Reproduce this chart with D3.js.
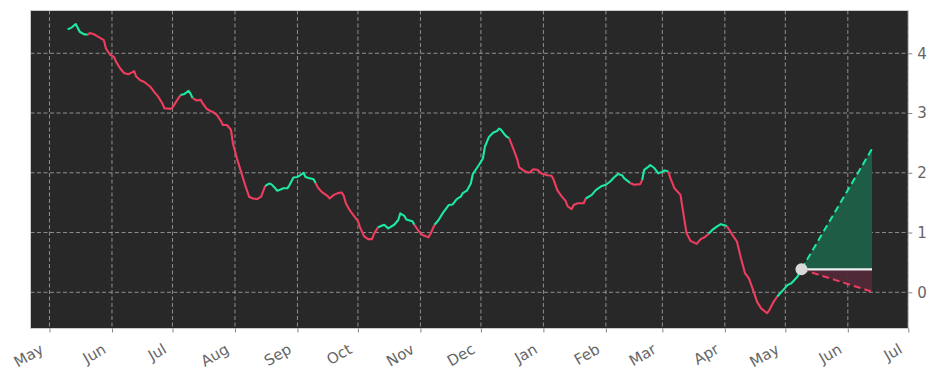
<!DOCTYPE html>
<html>
<head>
<meta charset="utf-8">
<script src="https://cdn.jsdelivr.net/npm/d3@7"></script>
<style>
  html, body { margin: 0; padding: 0; background: #ffffff; }
  svg { display: block; font-family: "DejaVu Sans", sans-serif; }
</style>
</head>
<body>
<svg id="chart" width="938" height="381"></svg>
<script>
// ---------- DATA ----------
const dates = [
  "2022-05-10","2022-05-12","2022-05-14","2022-05-16","2022-05-18","2022-05-20","2022-05-21","2022-05-23","2022-05-25","2022-05-28",
  "2022-05-29","2022-05-31","2022-06-02","2022-06-03","2022-06-05","2022-06-07","2022-06-09","2022-06-11","2022-06-12","2022-06-13",
  "2022-06-15","2022-06-17","2022-06-20","2022-06-22","2022-06-24","2022-06-26","2022-06-27","2022-06-30","2022-07-01","2022-07-03",
  "2022-07-05","2022-07-07","2022-07-09","2022-07-10","2022-07-11","2022-07-13","2022-07-15","2022-07-16","2022-07-18","2022-07-20",
  "2022-07-21","2022-07-23","2022-07-25","2022-07-26","2022-07-28","2022-07-30","2022-07-31","2022-08-02","2022-08-04","2022-08-06",
  "2022-08-08","2022-08-10","2022-08-12","2022-08-14","2022-08-16","2022-08-18","2022-08-19","2022-08-21","2022-08-22","2022-08-23",
  "2022-08-25","2022-08-27","2022-08-28","2022-08-30","2022-09-01","2022-09-02","2022-09-04","2022-09-05","2022-09-07","2022-09-09",
  "2022-09-10","2022-09-11","2022-09-13","2022-09-16","2022-09-17","2022-09-19","2022-09-21","2022-09-23","2022-09-24","2022-09-25",
  "2022-09-27","2022-09-29","2022-10-01","2022-10-02","2022-10-04","2022-10-06","2022-10-08","2022-10-09","2022-10-11","2022-10-14",
  "2022-10-16","2022-10-19","2022-10-21","2022-10-22","2022-10-24","2022-10-25","2022-10-28","2022-10-29","2022-10-31","2022-11-02",
  "2022-11-05","2022-11-06","2022-11-08","2022-11-10","2022-11-12","2022-11-15","2022-11-17","2022-11-19","2022-11-21","2022-11-22",
  "2022-11-24","2022-11-26","2022-11-27","2022-11-30","2022-12-02","2022-12-03","2022-12-05","2022-12-07","2022-12-09","2022-12-10",
  "2022-12-11","2022-12-13","2022-12-14","2022-12-15","2022-12-17","2022-12-19","2022-12-20","2022-12-23","2022-12-25","2022-12-27",
  "2022-12-29","2022-12-31","2023-01-03","2023-01-05","2023-01-06","2023-01-08","2023-01-10","2023-01-12","2023-01-13","2023-01-15",
  "2023-01-16","2023-01-18","2023-01-21","2023-01-22","2023-01-25","2023-01-27","2023-01-30","2023-02-01","2023-02-03","2023-02-05",
  "2023-02-07","2023-02-09","2023-02-10","2023-02-13","2023-02-15","2023-02-18","2023-02-19","2023-02-20","2023-02-22","2023-02-23",
  "2023-02-25","2023-02-27","2023-03-01","2023-03-02","2023-03-04","2023-03-05","2023-03-07","2023-03-10","2023-03-11","2023-03-13",
  "2023-03-15","2023-03-18","2023-03-20","2023-03-22","2023-03-24","2023-03-26","2023-03-28","2023-03-30","2023-04-02","2023-04-04",
  "2023-04-07","2023-04-09","2023-04-11","2023-04-13","2023-04-15","2023-04-17","2023-04-19","2023-04-22","2023-04-23","2023-04-25",
  "2023-04-27","2023-04-30","2023-05-02","2023-05-04","2023-05-07","2023-05-09"
];
const values = [
  4.40,4.43,4.49,4.36,4.32,4.31,4.34,4.32,4.28,4.22,
  4.08,3.98,3.94,3.86,3.75,3.67,3.65,3.68,3.70,3.61,
  3.55,3.52,3.44,3.35,3.27,3.16,3.08,3.07,3.09,3.20,
  3.30,3.32,3.37,3.32,3.25,3.21,3.22,3.16,3.07,3.03,
  3.02,2.97,2.87,2.80,2.80,2.72,2.49,2.24,2.02,1.80,
  1.60,1.57,1.56,1.60,1.78,1.82,1.81,1.74,1.70,1.71,
  1.74,1.74,1.79,1.92,1.93,1.95,2.00,1.93,1.91,1.89,
  1.83,1.76,1.68,1.61,1.57,1.63,1.66,1.67,1.61,1.49,
  1.37,1.28,1.19,1.09,0.94,0.89,0.89,0.98,1.09,1.13,
  1.07,1.13,1.21,1.32,1.28,1.22,1.19,1.13,1.03,0.96,
  0.92,0.98,1.13,1.21,1.32,1.46,1.47,1.56,1.60,1.66,
  1.70,1.82,1.98,2.13,2.24,2.44,2.60,2.67,2.70,2.74,
  2.72,2.63,2.60,2.58,2.41,2.23,2.09,2.02,2.00,2.06,
  2.05,1.99,1.96,1.95,1.89,1.70,1.61,1.53,1.44,1.39,
  1.46,1.49,1.49,1.57,1.63,1.71,1.78,1.80,1.85,1.92,
  1.98,1.96,1.91,1.83,1.80,1.81,1.88,2.05,2.10,2.13,
  2.08,1.99,2.02,2.04,2.02,1.91,1.74,1.63,1.41,0.99,
  0.86,0.81,0.89,0.92,0.98,1.05,1.10,1.14,1.11,1.00,
  0.85,0.57,0.32,0.23,0.04,-0.16,-0.27,-0.35,-0.30,-0.17,
  -0.07,0.04,0.12,0.15,0.26,0.385
];
// 1 = rising (green) segment starting at this point, 0 = falling (red)
const trend = [
  1,1,1,1,1,0,0,0,0,0,
  0,0,0,0,0,0,0,0,0,0,
  0,0,0,0,0,0,0,0,0,0,
  1,1,1,1,0,0,0,0,0,0,
  0,0,0,0,0,0,0,0,0,0,
  0,0,0,0,1,1,1,1,1,1,
  1,1,1,1,1,1,1,1,1,1,
  0,0,0,0,0,0,0,0,0,0,
  0,0,0,0,0,0,0,0,1,1,
  1,1,1,1,1,1,1,0,0,0,
  0,0,1,1,1,1,1,1,1,1,
  1,1,1,1,1,1,1,1,1,1,
  1,1,1,0,0,0,0,0,0,0,
  0,0,0,0,0,0,0,0,0,0,
  0,0,0,1,1,1,1,1,1,1,
  1,1,1,0,0,0,1,1,1,1,
  1,1,1,1,0,0,0,0,0,0,
  0,0,0,0,1,1,1,1,0,0,
  0,0,0,0,0,0,0,0,0,0,
  1,1,1,1,1,1
];
const forecastDates = ["2023-05-09", "2023-06-13"];
const forecastHigh = [0.385, 2.40];
const forecastLow = [0.385, 0.01];
const forecastBase = [0.385, 0.385];
const yTicks = [0, 1, 2, 3, 4];
const monthTickStart = "2022-05-01", monthTickEnd = "2023-07-01";

// ---------- LAYOUT ----------
const GREEN = "#1de9a0", RED = "#ee3d5e";
const px0 = 30.5, px1 = 908.3, py0 = 10.5, py1 = 328.5;
const parse = d3.timeParse("%Y-%m-%d");

const x = d3.scaleTime()
  .domain([new Date(2022, 3, 21, 14), new Date(2023, 6, 1)])
  .range([px0, px1]);
const y = d3.scaleLinear().domain([-0.606, 4.716]).range([py1, py0]);

const svg = d3.select("#chart");

svg.append("rect").attr("x", px0).attr("y", py0)
  .attr("width", px1 - px0).attr("height", py1 - py0)
  .attr("fill", "#282828");

const monthTicks = d3.timeMonth.range(parse(monthTickStart), d3.timeDay.offset(parse(monthTickEnd), 1));

// grid
const grid = svg.append("g").attr("stroke", "#a9a9a9").attr("stroke-width", 0.8)
  .attr("stroke-dasharray", "4,2.5").attr("fill", "none");
grid.selectAll("line.v").data(monthTicks).join("line").attr("class", "v")
  .attr("x1", d => x(d)).attr("x2", d => x(d)).attr("y1", py0).attr("y2", py1);
grid.selectAll("line.h").data(yTicks).join("line").attr("class", "h")
  .attr("x1", px0).attr("x2", px1).attr("y1", d => y(d)).attr("y2", d => y(d));

// forecast fills
const fd = forecastDates.map(parse);
const areaHigh = d3.area().x((d, i) => x(fd[i])).y0((d, i) => y(forecastBase[i])).y1(d => y(d));
svg.append("path").datum(forecastHigh).attr("d", areaHigh).attr("fill", "#1f5c45");
svg.append("path").datum(forecastLow).attr("d", areaHigh).attr("fill", "#52293a").attr("opacity", 0.95);

// main line, segmented by trend
const pts = dates.map((d, i) => ({ t: parse(d), v: values[i], up: trend[i] }));
const runs = [];
let cur = null;
pts.forEach((p, i) => {
  if (!cur || cur.up !== p.up) {
    if (cur) cur.pts.push(p);
    cur = { up: p.up, pts: [p] };
    runs.push(cur);
  } else cur.pts.push(p);
});
const line = d3.line().x(d => x(d.t)).y(d => y(d.v));
svg.append("g").selectAll("path").data(runs).join("path")
  .attr("d", r => line(r.pts))
  .attr("fill", "none")
  .attr("stroke", r => r.up ? GREEN : RED)
  .attr("stroke-width", 2.1)
  .attr("stroke-linejoin", "round")
  .attr("stroke-linecap", "butt");

// forecast lines
const fLine = d3.line().x((d, i) => x(fd[i])).y(d => y(d));
svg.append("path").datum(forecastBase).attr("d", fLine)
  .attr("stroke", "#ececec").attr("stroke-width", 2.2).attr("fill", "none");
svg.append("path").datum(forecastHigh).attr("d", fLine)
  .attr("stroke", GREEN).attr("stroke-width", 2).attr("stroke-dasharray", "7,4").attr("fill", "none");
svg.append("path").datum(forecastLow).attr("d", fLine)
  .attr("stroke", RED).attr("stroke-width", 2).attr("stroke-dasharray", "7,4").attr("fill", "none");
svg.append("circle").attr("cx", x(fd[0])).attr("cy", y(forecastBase[0])).attr("r", 6)
  .attr("fill", "#d9d9d9");

// frame
svg.append("rect").attr("x", px0).attr("y", py0)
  .attr("width", px1 - px0).attr("height", py1 - py0)
  .attr("fill", "none").attr("stroke", "#cccccc").attr("stroke-width", 1);

// x axis
const xAxis = svg.append("g").attr("transform", `translate(0,${py1})`)
  .call(d3.axisBottom(x).tickValues(monthTicks).tickFormat(d3.timeFormat("%b")).tickSize(4).tickSizeOuter(0));
xAxis.select(".domain").remove();
xAxis.selectAll(".tick line").attr("stroke", "#666").attr("stroke-width", 0.8);
xAxis.selectAll(".tick text")
  .attr("fill", "#666").attr("font-size", 15).attr("font-family", "DejaVu Sans, sans-serif")
  .attr("text-anchor", "end")
  .attr("transform", "translate(-11,14) rotate(-30)")
  .attr("x", 0).attr("y", 0).attr("dy", "0.75em");

// y axis
const yAxis = svg.append("g").attr("transform", `translate(${px1},0)`)
  .call(d3.axisRight(y).tickValues(yTicks).tickFormat(d3.format("d")).tickSize(4).tickPadding(5));
yAxis.select(".domain").remove();
yAxis.selectAll(".tick line").attr("stroke", "#666").attr("stroke-width", 0.8);
yAxis.selectAll(".tick text")
  .attr("fill", "#666").attr("font-size", 15).attr("font-family", "DejaVu Sans, sans-serif");
</script>
</body>
</html>
